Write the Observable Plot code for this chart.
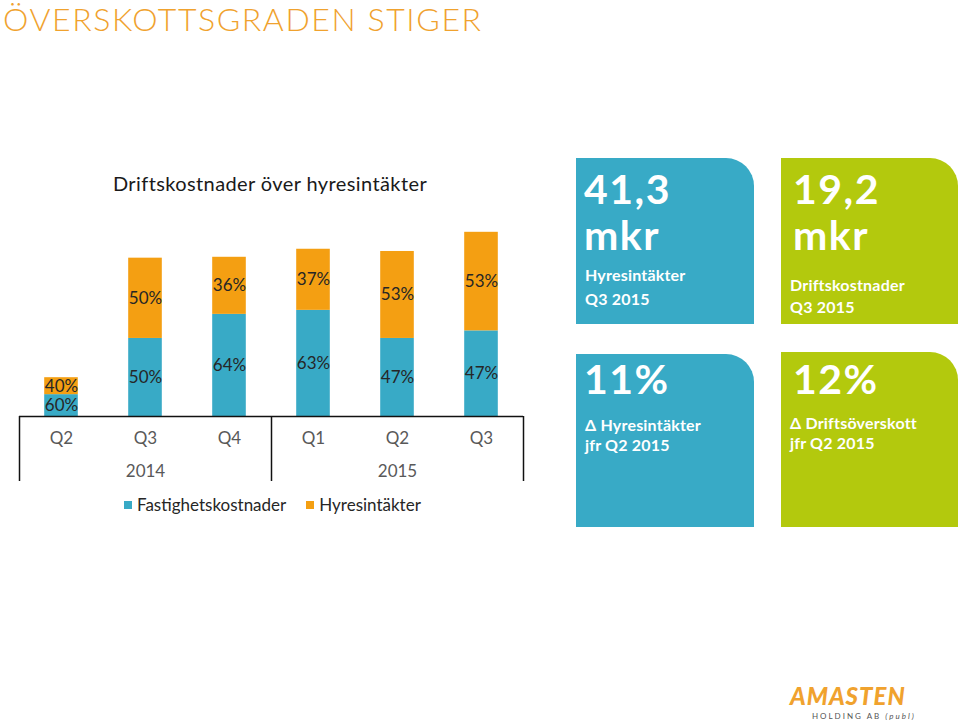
<!DOCTYPE html>
<html><head><meta charset="utf-8">
<script src="https://cdn.jsdelivr.net/npm/d3@7"></script>
<script src="https://cdn.jsdelivr.net/npm/@observablehq/plot@0.6"></script>
<style>
html,body{margin:0;padding:0;background:#fff;}
#page{position:relative;width:960px;height:720px;overflow:hidden;font-family:Lato,"Open Sans",sans-serif;}
.abs{position:absolute;white-space:nowrap;}
#title{left:3px;top:-1px;font-size:32px;font-weight:300;color:#F0A22E;letter-spacing:1.6px;}
#ctitle{left:0;width:540px;top:171px;text-align:center;font-size:20px;color:#1a1a1a;letter-spacing:0.4px;}
#chart{position:absolute;left:0;top:140px;}
.tile{position:absolute;color:#fff;border-top-right-radius:28px;font-weight:700;}
.big{font-size:41px;line-height:1;letter-spacing:1.5px;}
.small{font-size:16px;line-height:1;letter-spacing:0.2px;}
#legend{left:124px;top:494px;font-size:17px;color:#262626;}
#legend span.sw{display:inline-block;width:8px;height:8px;margin-right:5px;vertical-align:2px;}
#logo1{left:790px;top:684px;font-size:24px;line-height:1;font-weight:900;color:#F0A22E;letter-spacing:1px;font-style:italic;}
#logo2{left:812px;top:712px;font-size:8px;line-height:1;color:#555;letter-spacing:2px;}
</style></head>
<body><div id="page">
<div id="title" class="abs">ÖVERSKOTTSGRADEN STIGER</div>
<div id="ctitle" class="abs">Driftskostnader över hyresintäkter</div>
<div id="chart"></div>
<div id="legend" class="abs"><span class="sw" style="background:#38AAC6"></span>Fastighetskostnader<span style="display:inline-block;width:20px"></span><span class="sw" style="background:#F49F12"></span>Hyresintäkter</div>
<div id="tiles"></div>
<div id="logo1" class="abs">AMASTEN</div>
<div id="logo2" class="abs">HOLDING AB <i>(publ)</i></div>
</div>
<script>
// ---- data ----
const quarters = ["Q2","Q3","Q4","Q1","Q2","Q3"];
const years = ["2014","2014","2014","2015","2015","2015"];
const fastighetskostnader = [4.9, 17.5, 22.9, 23.8, 17.5, 19.2]; // mkr (bar height)
const hyresintakter = [3.8, 18.0, 12.8, 13.7, 19.5, 22.1];      // mkr (bar height)
const fastPct = ["60%","50%","64%","63%","47%","47%"];
const hyrPct = ["40%","50%","36%","37%","53%","53%"];
const seriesNames = ["Fastighetskostnader","Hyresintäkter"];
const seriesColors = ["#38AAC6","#F49F12"];

const tileData = [
  {big:["41,3","mkr"], small:["Hyresintäkter","Q3 2015"], color:"#38AAC6"},
  {big:["19,2","mkr"], small:["Driftskostnader","Q3 2015"], color:"#B3C90D"},
  {big:["11%"], small:["Δ Hyresintäkter","jfr Q2 2015"], color:"#38AAC6"},
  {big:["12%"], small:["Δ Driftsöverskott","jfr Q2 2015"], color:"#B3C90D"}
];

// ---- build table ----
const segs = [];
quarters.forEach((q, i) => {
  const a = fastighetskostnader[i], b = hyresintakter[i];
  segs.push({i, series: seriesNames[0], y1: 0, y2: a, label: fastPct[i]});
  segs.push({i, series: seriesNames[1], y1: a, y2: a + b, label: hyrPct[i]});
});
const idx = quarters.map((_, i) => i);
const groups = d3.group(idx, i => years[i]);
const yearTicks = Array.from(groups, ([y, is]) => d3.mean(is));
const yearOf = new Map(Array.from(groups, ([y, is]) => [d3.mean(is), y]));
const groupBounds = [-0.5, ...Array.from(groups.values()).map(is => d3.max(is) + 0.5)];

const chart = Plot.plot({
  width: 540, height: 360,
  marginLeft: 19, marginRight: 17, marginTop: 53, marginBottom: 84,
  style: {fontFamily: "Lato, 'Open Sans', sans-serif", fontSize: "17px", background: "transparent"},
  x: {type: "linear", domain: [-0.5, quarters.length - 0.5], axis: null},
  y: {domain: [0, 50], axis: null},
  color: {domain: seriesNames, range: seriesColors},
  marks: [
    Plot.rect(segs, {x1: d => d.i - 0.2, x2: d => d.i + 0.2, y1: "y1", y2: "y2", fill: "series"}),
    Plot.text(segs, {x: "i", y: d => (d.y1 + d.y2) / 2, text: "label", fill: "#262626", fontSize: 17}),
    Plot.ruleY([0], {stroke: "#111", strokeWidth: 1.5}),
    Plot.axisX(groupBounds, {tickSize: 65, tickFormat: () => "", label: null, stroke: "#111", strokeWidth: 1.5}),
    Plot.axisX(idx, {tickSize: 0, tickPadding: 15, tickFormat: i => quarters[i], label: null, fill: "#595959", fontSize: 17}),
    Plot.axisX(yearTicks, {tickSize: 0, tickPadding: 48, tickFormat: v => yearOf.get(v), label: null, fill: "#595959", fontSize: 17})
  ]
});
document.getElementById("chart").appendChild(chart);

// ---- tiles ----
const boxes = [
  {left: 576, top: 158, w: 178, h: 166, bigTops: [10, 56], smallTops: [109, 133]},
  {left: 781, top: 158, w: 177, h: 166, bigTops: [10, 56], smallTops: [119, 141]},
  {left: 576, top: 354, w: 178, h: 173, bigTops: [4], smallTops: [63, 83]},
  {left: 781, top: 352, w: 177, h: 175, bigTops: [6], smallTops: [63, 83]}
];
const tilesEl = document.getElementById("tiles");
tileData.forEach((t, k) => {
  const b = boxes[k];
  const d = document.createElement("div");
  d.className = "tile";
  Object.assign(d.style, {left: b.left + "px", top: b.top + "px", width: b.w + "px", height: b.h + "px", background: t.color});
  t.big.forEach((txt, j) => {
    const e = document.createElement("div");
    e.className = "big abs";
    e.style.left = (k % 2 ? 12 : 8) + "px"; e.style.top = b.bigTops[j] + "px";
    e.textContent = txt;
    d.appendChild(e);
  });
  t.small.forEach((txt, j) => {
    const e = document.createElement("div");
    e.className = "small abs";
    e.style.left = "9px"; e.style.top = b.smallTops[j] + "px";
    e.textContent = txt;
    d.appendChild(e);
  });
  tilesEl.appendChild(d);
});
</script>
</body></html>
